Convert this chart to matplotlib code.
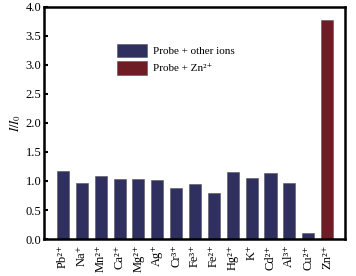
import matplotlib
matplotlib.use("Agg")
import matplotlib.pyplot as plt
from matplotlib.patches import Patch

# ion labels and relative intensities
ions = ["Pb²⁺", "Na⁺", "Mn²⁺", "Ca²⁺", "Mg²⁺", "Ag⁺", "Cr³⁺", "Fe³⁺", "Fe²⁺",
        "Hg²⁺", "K⁺", "Cd²⁺", "Al³⁺", "Cu²⁺", "Zn²⁺"]
ratios = [1.17, 0.96, 1.09, 1.04, 1.03, 1.01, 0.88, 0.95, 0.79, 1.16, 1.05, 1.13,
          0.96, 0.10, 3.77]
y_ticks = [0.0, 0.5, 1.0, 1.5, 2.0, 2.5, 3.0, 3.5, 4.0]

navy = "#2f3060"
red = "#6f1d24"

plt.rcParams["font.family"] = ["Liberation Serif", "DejaVu Serif"]
plt.rcParams["mathtext.fontset"] = "stix"

fig = plt.figure(figsize=(3.56, 2.76), dpi=100)
ax = fig.add_axes([0.124, 0.134, 0.845, 0.841])

colors = [navy] * (len(ions) - 1) + [red]
x = list(range(len(ions)))
ax.bar(x, ratios, width=0.64, color=colors, edgecolor="#555555", linewidth=0.4, zorder=2)

ax.set_xlim(-1.0, len(ions) - 0.05)
ax.set_ylim(0, 4.0)
ax.set_yticks(y_ticks)
ax.set_yticklabels([f"{v:.1f}" for v in y_ticks], fontsize=9)
ax.set_xticks(x)
ax.set_xticklabels(ions, rotation=90, fontsize=9)
ax.tick_params(axis="both", direction="in", width=1.5, length=3, pad=2)
ax.tick_params(axis="x", pad=4)
for s in ax.spines.values():
    s.set_linewidth(1.8)

ax.set_ylabel("$I/I_0$", fontsize=9, labelpad=2)

handles = [Patch(facecolor=navy, edgecolor="#555555", linewidth=0.4),
           Patch(facecolor=red, edgecolor="#555555", linewidth=0.4)]
ax.legend(handles, ["Probe + other ions", "Probe + Zn²⁺"], loc="upper left",
          bbox_to_anchor=(0.21, 0.885), frameon=False, fontsize=8,
          handlelength=2.7, handleheight=1.5, labelspacing=0.35, handletextpad=0.5)

fig.savefig("out.png", dpi=100)
